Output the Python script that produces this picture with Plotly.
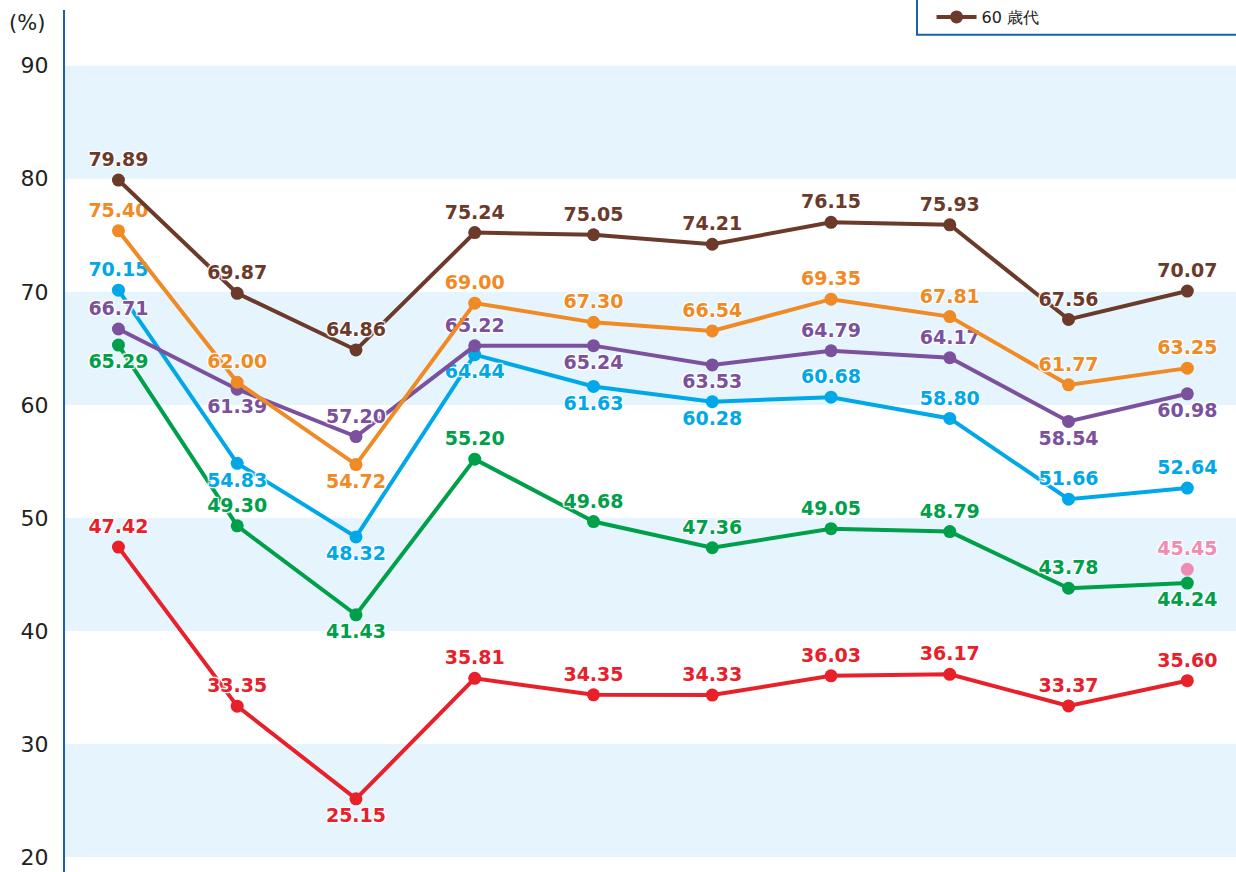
import plotly.graph_objects as go

# 各年代の割合（％）
periods = list(range(10))
age20 = [47.42, 33.35, 25.15, 35.81, 34.35, 34.33, 36.03, 36.17, 33.37, 35.60]
age30 = [65.29, 49.30, 41.43, 55.20, 49.68, 47.36, 49.05, 48.79, 43.78, 44.24]
age40 = [70.15, 54.83, 48.32, 64.44, 61.63, 60.28, 60.68, 58.80, 51.66, 52.64]
age50 = [66.71, 61.39, 57.20, 65.22, 65.24, 63.53, 64.79, 64.17, 58.54, 60.98]
age70 = [75.40, 62.00, 54.72, 69.00, 67.30, 66.54, 69.35, 67.81, 61.77, 63.25]
age60 = [79.89, 69.87, 64.86, 75.24, 75.05, 74.21, 76.15, 75.93, 67.56, 70.07]
extra = [None, None, None, None, None, None, None, None, None, 45.45]
y_ticks = [20, 30, 40, 50, 60, 70, 80, 90]

T, B = "top center", "bottom center"
series = [
    ("20歳代", age20, "#E8202A", [T, T, B, T, T, T, T, T, T, T]),
    ("30歳代", age30, "#00A04A", [B, T, B, T, T, T, T, T, T, B]),
    ("40歳代", age40, "#00A8E8", [T, B, B, B, B, B, T, T, T, T]),
    ("50歳代", age50, "#7B519D", [T, B, T, T, B, B, T, T, B, B]),
    ("70歳以上", age70, "#F08A24", [T, T, B, T, T, T, T, T, T, T]),
    ("60 歳代", age60, "#6B3A2A", [T] * 10),
]

HALO = "1px 1px 1px white, -1px -1px 1px white, 1px -1px 1px white, -1px 1px 1px white, 0 0 3px white"
LABEL_FONT = "DejaVu Sans"

fig = go.Figure()

for name, vals, color, pos in series:
    fig.add_trace(go.Scatter(
        x=periods, y=vals, name=name, mode="lines+markers+text",
        line=dict(color=color, width=4),
        marker=dict(color=color, size=13),
        text=[f"{v:.2f}" for v in vals],
        textposition=pos,
        textfont=dict(color=color, size=19, family=LABEL_FONT, weight="bold", shadow=HALO),
        showlegend=(name == "60 歳代"),
        cliponaxis=False,
    ))

fig.add_trace(go.Scatter(
    x=periods, y=extra, mode="markers+text", showlegend=False,
    marker=dict(color="#F08CB4", size=13),
    text=[None if v is None else f"{v:.2f}" for v in extra],
    textposition="top center",
    textfont=dict(color="#F08CB4", size=19, family=LABEL_FONT, weight="bold", shadow=HALO),
))

# 背景の帯
shapes = []
for lo in [20, 40, 60, 80]:
    shapes.append(dict(type="rect", xref="paper", yref="y", x0=0, x1=1, y0=lo, y1=lo + 10,
                       fillcolor="#E6F5FD", line=dict(width=0), layer="below"))
# 凡例の枠
shapes.append(dict(type="rect", xref="paper", yref="paper", x0=0.7276, x1=1.05, y0=0.9712, y1=1.05,
                   fillcolor="white", line=dict(color="#1a5fb4", width=2), layer="below"))

fig.update_layout(
    width=1236, height=872,
    margin=dict(l=65, r=0, t=5, b=0),
    plot_bgcolor="white", paper_bgcolor="white",
    font=dict(family="DejaVu Sans", color="#222222"),
    shapes=shapes,
    xaxis=dict(range=[-0.45, 9.41], showticklabels=False, showgrid=False, zeroline=False, ticks=""),
    yaxis=dict(range=[18.68, 94.93], tickvals=y_ticks, showgrid=False, zeroline=False,
               showline=True, linecolor="#1a5fb4", linewidth=2,
               tickfont=dict(size=22, color="#222222"), ticks="", ticklabelstandoff=10),
    legend=dict(x=0.74, y=0.992, xanchor="left", yanchor="middle", bgcolor="rgba(0,0,0,0)",
                font=dict(size=16, color="#222222"), itemwidth=40),
    annotations=[dict(text="(%)", xref="paper", yref="paper", x=-0.0325, y=0.985,
                      xanchor="center", yanchor="middle", showarrow=False,
                      font=dict(size=21, color="#222222"))],
)

fig.write_html("out.html", config={"displayModeBar": False},
               post_script="document.body.style.margin='0';")
